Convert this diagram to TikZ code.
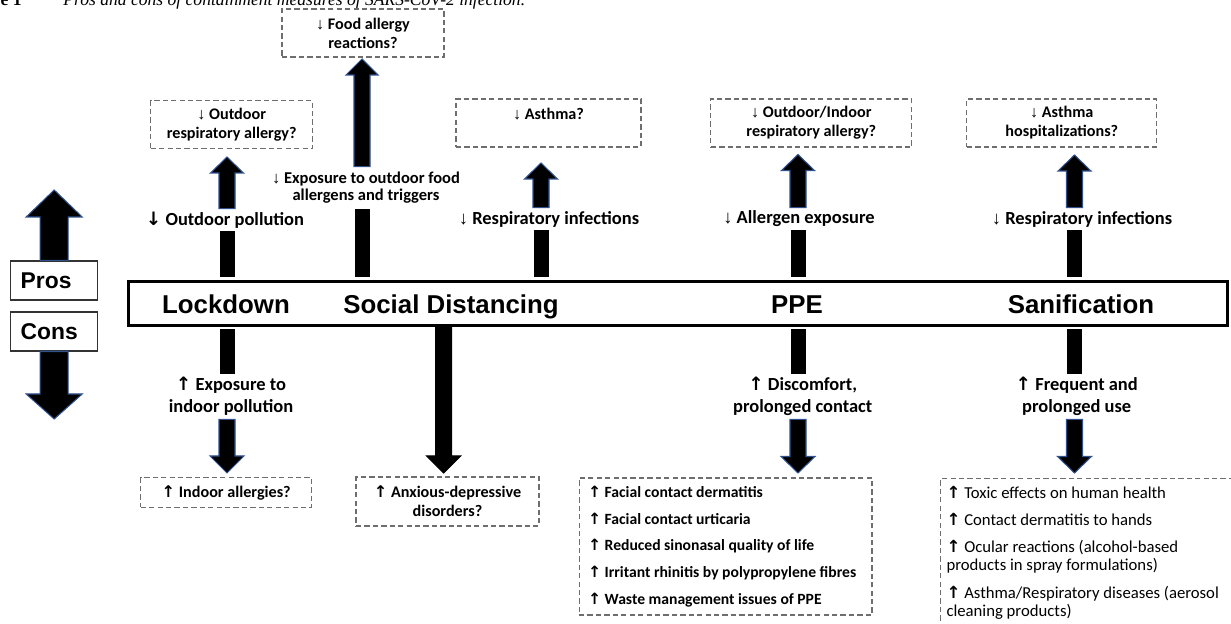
\documentclass[tikz,border=0pt]{standalone}
\usepackage{fontspec}
\setmainfont{Carlito}
\newfontfamily\arialfont{Liberation Sans}
\newfontfamily\symfont{DejaVu Sans}
\newfontfamily\capfont{Liberation Serif}
\usetikzlibrary{calc}
\definecolor{arrblue}{RGB}{47,82,143}
\definecolor{boxgray}{RGB}{110,110,110}

% thin and bold trend arrows
\newcommand{\dn}{{\arialfont ↓}}
\newcommand{\dnb}{{\symfont\bfseries ↓}}
\newcommand{\upb}{{\symfont\bfseries ↑}}

% block arrow: outline, from, tip, direction (1 up, -1 down), half shaft, half head, head length
\newcommand{\blockarrow}[7]{%
  \filldraw[draw=#1, fill=black, line width=0.6pt]
    ($(#2)+(-#5,0)$) -- ($(#3)+(-#5,#4*#7)$) -- ($(#3)+(-#6,#4*#7)$) -- (#3)
    -- ($(#3)+(#6,#4*#7)$) -- ($(#3)+(#5,#4*#7)$) -- ($(#2)+(#5,0)$) -- cycle;}

\begin{document}
\begin{tikzpicture}[x=0.02cm, y=-0.02cm,
    lab/.style={font=\fontsize{10.5}{12.5}\selectfont\bfseries, align=center, inner sep=0pt, minimum height=0.44cm},
    sublab/.style={font=\fontsize{9.4}{9.7}\selectfont\bfseries, align=center, inner sep=0pt},
    dbox/.style={draw=boxgray, dash pattern=on 3pt off 1.8pt, line width=0.6pt, font=\fontsize{9.2}{10.8}\selectfont\bfseries, align=center, inner sep=0pt},
    measure/.style={font=\arialfont\bfseries\fontsize{14.7}{16}\selectfont, anchor=base, inner sep=0pt},
    pc/.style={draw=black!80, line width=0.6pt, font=\arialfont\bfseries\fontsize{13}{15}\selectfont, text width=1.34cm, align=left, inner xsep=0.2cm, minimum height=0.78cm},
    nohyph/.style={execute at begin node={\hyphenpenalty=10000 }},
    stub/.style={line width=0.3cm}]
\useasboundingbox (0,0) rectangle (1231,624);

% caption
\node[anchor=base east, inner sep=0pt, font=\capfont\bfseries\fontsize{10}{12}\selectfont] (fig) at (22,6) {Figure 1};
\node[anchor=base west, inner sep=0pt, font=\capfont\itshape\fontsize{10}{12}\selectfont] (cap) at (63,6) {Pros and cons of containment measures of SARS-CoV-2 infection.};

% measures
\node[draw, line width=0.06cm, minimum width=22cm, minimum height=0.9cm, inner sep=0pt] (bar) at (678,303.5) {};
\node[measure] (ld) at (226,313.5) {Lockdown};
\node[measure] (sd) at (451,313.5) {Social Distancing};
\node[measure] (ppe) at (797,313.5) {PPE};
\node[measure] (san) at (1081,313.5) {Sanification};

% pros / cons
\node[pc] (pros) at (54.2,280.5) {Pros};
\node[pc] (cons) at (54.2,331.5) {Cons};
\coordinate (prosTip) at (54.2,190);
\coordinate (consTip) at (54.2,419);
\blockarrow{arrblue}{pros.north}{prosTip}{1}{14}{28}{27}
\blockarrow{arrblue}{cons.south}{consTip}{-1}{14}{28}{25}

% columns
\coordinate (cLD) at (227,0);
\coordinate (cSD) at (362,0);
\coordinate (cSDb) at (443.7,0);
\coordinate (cAst) at (541,0);
\coordinate (cPPE) at (798,0);
\coordinate (cSan) at (1074.5,0);

% pros side
\node[lab] (polLD) at (225,220) {\dnb\ Outdoor pollution};
\node[dbox, minimum width=3.24cm, minimum height=0.95cm] (boxLD) at (231.7,124.5) {\dn\ Outdoor\\respiratory allergy?};
\coordinate (tLD) at (227,157);
\draw[stub, shorten >=0.06cm] (polLD.south -| cLD) -- (bar.north -| cLD);
\blockarrow{arrblue}{polLD.north -| cLD}{tLD}{1}{8}{16.5}{16}

\node[sublab, minimum height=0.84cm] (expSD) at (366,188) {\dn\ Exposure to outdoor food\\allergens and triggers};
\node[dbox, minimum width=3.24cm, minimum height=0.96cm] (boxFood) at (363,33) {\dn\ Food allergy\\reactions?};
\coordinate (tSD) at (362,59);
\draw[stub, shorten >=0.06cm] (expSD.south -| cSD) -- (bar.north -| cSD);
\blockarrow{arrblue}{expSD.north -| cSD}{tSD}{1}{8}{16}{16}

\node[lab] (resAst) at (549,219) {\dn\ Respiratory infections};
\node[dbox, minimum width=3.7cm, minimum height=0.96cm] (boxAst) at (548.5,123) {\dn\ Asthma?\\\mbox{}};
\coordinate (tAst) at (541,163);
\draw[stub, shorten >=0.06cm] (resAst.south -| cAst) -- (bar.north -| cAst);
\blockarrow{arrblue}{resAst.north -| cAst}{tAst}{1}{8}{16.5}{16}

\node[lab] (allPPE) at (799,219) {\dn\ Allergen exposure};
\node[dbox, minimum width=4.02cm, minimum height=0.96cm] (boxPPE) at (811.3,123) {\dn\ Outdoor/Indoor\\respiratory allergy?};
\coordinate (tPPE) at (798,154.5);
\draw[stub, shorten >=0.06cm] (allPPE.south -| cPPE) -- (bar.north -| cPPE);
\blockarrow{arrblue}{allPPE.north -| cPPE}{tPPE}{1}{8}{16.5}{16}

\node[lab] (resSan) at (1082,219) {\dn\ Respiratory infections};
\node[dbox, minimum width=3.8cm, minimum height=0.96cm] (boxSan) at (1061.8,123) {\dn\ Asthma\\hospitalizations?};
\coordinate (tSan) at (1074.5,155);
\draw[stub, shorten >=0.06cm] (resSan.south -| cSan) -- (bar.north -| cSan);
\blockarrow{arrblue}{resSan.north -| cSan}{tSan}{1}{8}{16.5}{16}

% cons side
\node[lab, minimum height=0.9cm] (expLD) at (231,396.5) {\upb\ Exposure to\\indoor pollution};
\node[dbox, minimum width=3.42cm, minimum height=0.59cm] (boxInd) at (226.2,492.5) {\upb\ Indoor allergies?};
\coordinate (tLDb) at (227,473);
\draw[stub, shorten <=0.04cm] (bar.south -| cLD) -- (expLD.north -| cLD);
\blockarrow{arrblue}{expLD.south -| cLD}{tLDb}{-1}{8}{17}{17}

\node[dbox, minimum width=3.66cm, minimum height=0.98cm] (boxAnx) at (447.5,501.5) {\upb\ Anxious-depressive\\disorders?};
\coordinate (tSDb) at (443.7,473);
\blockarrow{black}{bar.south -| cSDb}{tSDb}{-1}{8}{17}{17}

\node[lab, minimum height=0.9cm] (dscPPE) at (802.7,396.5) {\upb\ Discomfort,\\prolonged contact};
\coordinate (tPPEb) at (798,473);
\draw[stub, shorten <=0.04cm] (bar.south -| cPPE) -- (dscPPE.north -| cPPE);
\blockarrow{arrblue}{dscPPE.south -| cPPE}{tPPEb}{-1}{8}{17}{16.5}
\node[dbox, nohyph, align=flush left, text width=5.5cm, inner xsep=0.18cm, minimum height=2.74cm, font=\fontsize{8.9}{15.2}\selectfont\bfseries] (listPPE) at (725.5,546.5)
  {\upb\ Facial contact dermatitis\\
   \upb\ Facial contact urticaria\\
   \upb\ Reduced sinonasal quality of life\\
   \upb\ Irritant rhinitis by polypropylene fibres\\
   \upb\ Waste management issues of PPE};

\node[lab, minimum height=0.9cm] (freqSan) at (1076.7,396.5) {\upb\ Frequent and\\prolonged use};
\coordinate (tSanb) at (1074.5,473);
\draw[stub, shorten <=0.04cm] (bar.south -| cSan) -- (freqSan.north -| cSan);
\blockarrow{arrblue}{freqSan.south -| cSan}{tSanb}{-1}{8}{17}{16.5}
\node[dbox, nohyph, anchor=north west, align=flush left, text width=6.2cm, inner xsep=0.12cm, inner ysep=0.14cm, font=\fontsize{9.5}{10.4}\selectfont] (listSan) at (940,478.3)
  {\upb\ Toxic effects on human health\\[5.1pt]
   \upb\ Contact dermatitis to hands\\[5.1pt]
   \upb\ Ocular reactions (alcohol-based\\
   products in spray formulations)\\[5.1pt]
   \upb\ Asthma/Respiratory diseases (aerosol\\
   cleaning products)};
\end{tikzpicture}
\end{document}
